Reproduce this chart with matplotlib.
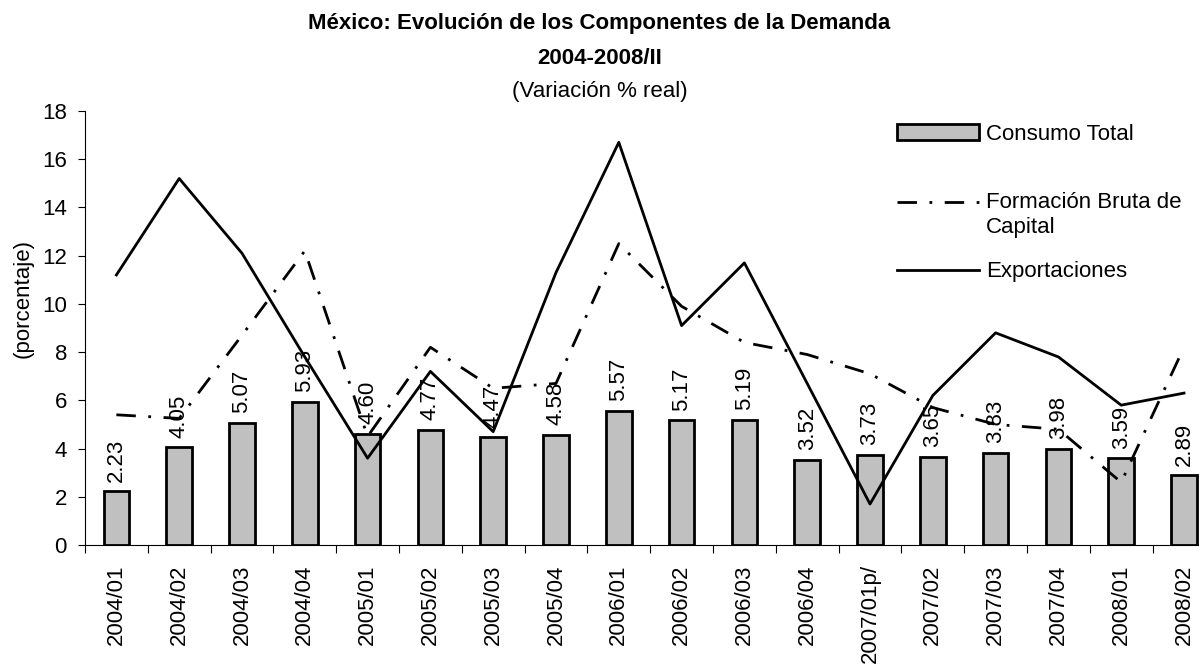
import matplotlib
matplotlib.use("Agg")
import matplotlib.pyplot as plt
from matplotlib.legend_handler import HandlerLine2D
import numpy as np

plt.rcParams['font.family'] = ['Liberation Sans', 'DejaVu Sans']

categories = ['2004/01', '2004/02', '2004/03', '2004/04', '2005/01', '2005/02',
              '2005/03', '2005/04', '2006/01', '2006/02', '2006/03', '2006/04',
              '2007/01p/', '2007/02', '2007/03', '2007/04', '2008/01', '2008/02']
consumo_total = [2.23, 4.05, 5.07, 5.93, 4.60, 4.77, 4.47, 4.58, 5.57, 5.17,
                 5.19, 3.52, 3.73, 3.65, 3.83, 3.98, 3.59, 2.89]
formacion_bruta = [5.4, 5.25, 8.7, 12.2, 4.5, 8.2, 6.5, 6.7, 12.5, 9.9,
                   8.4, 7.9, 7.1, 5.7, 5.0, 4.8, 2.6, 8.2]
exportaciones = [11.2, 15.2, 12.1, 7.8, 3.6, 7.2, 4.7, 11.3, 16.7, 9.1,
                 11.7, 6.7, 1.7, 6.2, 8.8, 7.8, 5.8, 6.3]
y_ticks = [0, 2, 4, 6, 8, 10, 12, 14, 16, 18]


class HandlerTopLine(HandlerLine2D):
    """Line handle aligned with the first line of a two-line label."""
    def create_artists(self, legend, orig_handle, xdescent, ydescent,
                       width, height, fontsize, trans):
        arts = super().create_artists(legend, orig_handle, xdescent, ydescent,
                                      width, height, fontsize, trans)
        for a in arts:
            a.set_ydata(np.asarray(a.get_ydata()) + 0.6 * fontsize)
        return arts


W, H = 1199, 667
fig = plt.figure(figsize=(W / 100, H / 100), dpi=100)
ax = fig.add_axes([85 / W, (H - 545) / H, 1130.4 / W, 434 / H])

FS = 16
x = np.arange(len(categories))
bars = ax.bar(x, consumo_total, width=0.41, color='#C0C0C0', edgecolor='black',
              linewidth=2, zorder=2, label='Consumo Total')
ax.bar_label(bars, labels=[f'{v:.2f}' for v in consumo_total], padding=7,
             rotation=90, fontsize=FS, zorder=3)
l_fbk, = ax.plot(x, formacion_bruta, color='black', lw=2,
                 linestyle=(0, (7, 4.5, 1, 4.5)), zorder=4,
                 label='Formación Bruta de\nCapital')
l_exp, = ax.plot(x, exportaciones, color='black', lw=2, zorder=4,
                 label='Exportaciones')

ax.set_xlim(-0.5, len(categories) - 0.5)
ax.set_ylim(0, 18)
ax.set_yticks(y_ticks)
ax.tick_params(axis='y', labelsize=FS, length=5, width=0.8, pad=8)
ax.set_xticks(x)
ax.set_xticklabels(categories, rotation=90, fontsize=FS)
ax.tick_params(axis='x', which='major', length=0, pad=14)
ax.set_xticks(np.arange(len(categories) + 1) - 0.5, minor=True)
ax.tick_params(axis='x', which='minor', length=5.5, width=0.8, direction='out')

for s in ['top', 'right']:
    ax.spines[s].set_visible(False)
for s in ['left', 'bottom']:
    ax.spines[s].set_linewidth(0.8)

ax.set_ylabel('(porcentaje)', fontsize=FS)
ax.yaxis.set_label_coords((34 - 85) / 1130.4, (545 - 299) / 434)

# Title
fig.text(0.5, 1 - 23 / H, 'México: Evolución de los Componentes de la Demanda',
         ha='center', va='center', fontsize=FS, fontweight='bold')
fig.text(0.5, 1 - 59 / H, '2004-2008/II', ha='center', va='center',
         fontsize=FS, fontweight='bold')
fig.text(0.5, 1 - 92 / H, '(Variación % real)', ha='center', va='center',
         fontsize=FS)

# Legend (entries placed separately like the original)
common = dict(loc='center left', frameon=False, fontsize=FS, borderpad=0,
              borderaxespad=0, handlelength=3.7, handletextpad=0.3,
              handleheight=0.75, bbox_transform=fig.transFigure)
leg1 = ax.legend(handles=[bars], labels=['Consumo Total'],
                 bbox_to_anchor=(897 / W, 1 - 134 / H), **common)
ax.add_artist(leg1)
leg2 = ax.legend(handles=[l_fbk], labels=['Formación Bruta de\nCapital'],
                 bbox_to_anchor=(897 / W, 1 - 215 / H),
                 handler_map={l_fbk: HandlerTopLine()}, **common)
ax.add_artist(leg2)
leg3 = ax.legend(handles=[l_exp], labels=['Exportaciones'],
                 bbox_to_anchor=(897 / W, 1 - 272 / H), **common)

fig.savefig('out.png', dpi=100)
